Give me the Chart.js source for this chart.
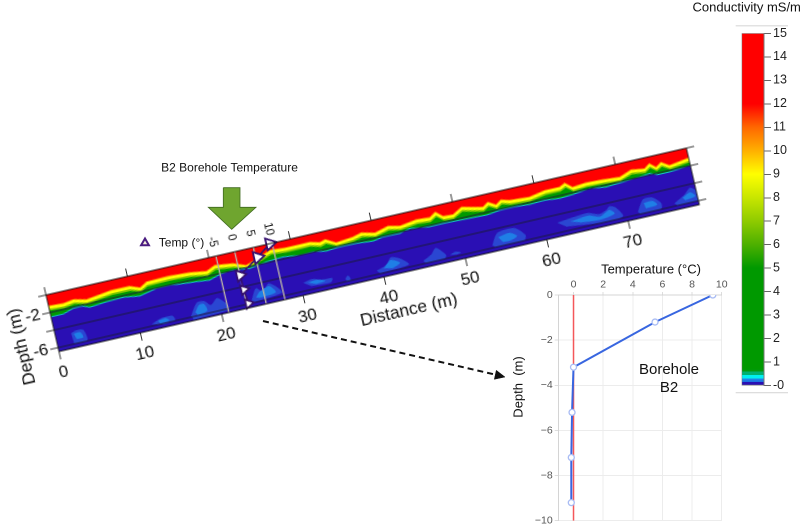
<!DOCTYPE html>
<html><head><meta charset="utf-8">
<style>
html,body{margin:0;padding:0;background:#fff;width:803px;height:529px;overflow:hidden}
canvas{position:absolute;display:block}
</style>
<script src="https://cdn.jsdelivr.net/npm/chart.js@4"></script>
</head><body>
<canvas id="section"></canvas>
<canvas id="borehole"></canvas>
<canvas id="colorbar"></canvas>
<canvas id="notes"></canvas>
<script>
// ---------- Section: conductivity bands along the profile ----------
const sectionDistTicks=[0,10,20,30,40,50,60,70];
const sectionDepthTicks=[0,-2,-4,-6];
const sectionDepthLabels=['-2','-6'];
const sectionGuideDepths=[-2,-4,-6];
const baseDist=[0,78.75];
const baseDepth=[-6.44,-6.44];
const redDist=[0,1.8,3.1,4.6,7.8,10,11.2,12.1,14.8,17.4,19.4,20.5,22.7,24.2,26,27.4,29.2,31,32.2,33.4,34.1,35.3,37.4,38.5,40.1,41.8,43.2,45.3,46.9,47.7,48.5,49.7,50.9,52.2,53.4,54.1,55,55.7,56.7,59.1,61.1,62.9,63.6,64.4,66.1,68.1,70.2,71.7,73.3,74,74.7,75.4,76.3,78.75];
const redDepth=[-1.23,-1.33,-1.15,-1.48,-1.09,-1.11,-1.54,-1.06,-0.99,-1.12,-1.4,-0.96,-1.22,-1.74,-1.18,-0.69,-0.82,-0.82,-0.8,-1.1,-0.9,-1.52,-1.33,-1.07,-1.43,-1.01,-1.3,-1.02,-1.13,-0.67,-1.32,-1.39,-0.78,-1.07,-1.32,-0.9,-1.39,-0.97,-1.24,-1.39,-1.04,-1.05,-0.75,-1.39,-1.24,-1.32,-1.47,-0.96,-1.18,-0.73,-1.3,-0.88,-1.44,-1.1];
const yellowDepth=[-1.58,-1.68,-1.5,-1.83,-1.44,-1.46,-1.85,-1.41,-1.34,-1.47,-1.75,-1.31,-1.55,-1.98,-1.5,-1.04,-1.17,-1.17,-1.15,-1.45,-1.25,-1.8,-1.65,-1.42,-1.76,-1.36,-1.62,-1.37,-1.48,-1.05,-1.67,-1.72,-1.13,-1.42,-1.65,-1.25,-1.72,-1.32,-1.59,-1.72,-1.39,-1.4,-1.1,-1.72,-1.59,-1.67,-1.8,-1.31,-1.5,-1.08,-1.6,-1.23,-1.74,-1.45];
const limeDepth=[-1.78,-1.88,-1.7,-2.0,-1.64,-1.66,-2.02,-1.61,-1.54,-1.67,-1.95,-1.51,-1.75,-2.08,-1.7,-1.24,-1.37,-1.37,-1.35,-1.65,-1.45,-1.95,-1.85,-1.62,-1.92,-1.56,-1.8,-1.57,-1.68,-1.25,-1.85,-1.9,-1.33,-1.62,-1.85,-1.45,-1.9,-1.52,-1.79,-1.9,-1.59,-1.6,-1.3,-1.9,-1.75,-1.85,-1.95,-1.51,-1.7,-1.28,-1.78,-1.43,-1.92,-1.62];
const blueDist=[0,1.5,2.8,3.9,4.8,6.9,9,10.9,13.1,14.7,15.9,18,19.5,20.9,22.5,24.5,26.7,28.7,30.7,32.4,33.9,35.6,37.7,39.7,40.9,43,44.3,46.6,48.3,50.3,52.4,53.6,55.3,56.9,58.9,60.8,62.6,64.2,66.4,68.3,70.4,72.5,73.8,74.7,76.1,78.75];
const blueDepth=[-2.49,-2.49,-2.12,-2.08,-2.42,-2.23,-2.17,-2.44,-2.03,-2.01,-2.14,-2.3,-2.46,-2.08,-1.94,-2.19,-1.88,-1.76,-1.98,-1.96,-2.21,-2.08,-2.12,-2.29,-2.08,-2.12,-1.83,-2.14,-2.11,-2.18,-2.23,-2.29,-2.09,-2.07,-2.21,-2.12,-2.31,-2.21,-1.97,-2.22,-2.09,-1.96,-1.84,-2.16,-2.17,-1.97];
// Deep, more conductive pockets (outlines)
const pocketADist=[1.9,2.5,3.4,3.6,2.0];       const pocketADepth=[-4.8,-4.6,-4.7,-5.9,-5.9];
const pocketBDist=[11.6,12.8,14.2,14.4,13];    const pocketBDepth=[-5.8,-5.4,-5.4,-5.9,-6.1];
const pocketCDist=[16.4,17.4,18.3,19,19.9,20.9,21,16.6]; const pocketCDepth=[-5.9,-4.6,-4.6,-5.2,-4.6,-5.5,-6.1,-6.3];
const pocketDDist=[23.9,24.7,25.4,26.3,27.2,27.6,24.1];  const pocketDDepth=[-5.7,-4.5,-5.0,-4.3,-4.9,-5.6,-5.9];
const pocketEDist=[30.4,31.5,32.6,33.9,33.6,31.2];  const pocketEDepth=[-5.1,-4.9,-5.2,-5.3,-5.7,-5.6];
const pocketFDist=[35.4,35.8,36,35.6];  const pocketFDepth=[-5.7,-5.4,-5.9,-6];
const pocketGDist=[39.3,40.6,41.3,42.4,43.2,39.6]; const pocketGDepth=[-5.6,-5.2,-4.5,-4.9,-5.7,-5.9];
const pocketHDist=[45,46.1,46.8,47.8,47.6,45.3]; const pocketHDepth=[-5.7,-5.2,-4.6,-5.6,-5.9,-6];
const pocketIDist=[48.3,49,49.6,49]; const pocketIDepth=[-5.7,-5.5,-5.7,-5.8];
const pocketJDist=[53.5,54.4,56.5,57.6,57.4,53.8]; const pocketJDepth=[-5.7,-4.5,-4.4,-5.4,-5.9,-6];
const pocketKDist=[61.7,63.6,65.5,66.8,67.8,68.2,68.9,69.5,66.6,62.6]; const pocketKDepth=[-4.9,-4.7,-4.6,-5.0,-4.7,-4.4,-4.7,-5.8,-5.9,-5.5];
const pocketLDist=[71.4,72.3,73.4,74.3,74.2,71.6]; const pocketLDepth=[-5.7,-4.5,-4.5,-5.3,-5.9,-6];
const pocketMDist=[75.9,77.3,78.1,78.75,78.75,76.2]; const pocketMDepth=[-5.7,-5.0,-4.4,-4.9,-5.9,-6];
const coreADist=[2.2,3,3.2,2.4]; const coreADepth=[-4.9,-4.9,-5.5,-5.5];
const coreBDist=[12.4,13.4,13.7,12.6]; const coreBDepth=[-5.6,-5.5,-5.8,-5.9];
const coreCDist=[17.0,17.6,18.2,18.4,17.2]; const coreCDepth=[-5.6,-4.9,-4.9,-5.7,-5.9];
const coreDDist=[24.5,25,26.3,26.9,24.8]; const coreDDepth=[-5.5,-5.0,-4.6,-5.4,-5.6];
const coreEDist=[31,32,33,31.8]; const coreEDepth=[-5.2,-5.1,-5.4,-5.5];
const coreGDist=[40.2,41.2,42.2,41.2]; const coreGDepth=[-5.5,-4.8,-5.3,-5.7];
const coreJDist=[54.4,55.8,56.6,55.8,54.8]; const coreJDepth=[-5.0,-4.8,-5.3,-5.6,-5.6];
const coreKDist=[63.3,65.5,66.8,68.1,68.6,66.8,64.4]; const coreKDepth=[-5.1,-4.9,-5.3,-4.8,-5.3,-5.6,-5.4];
const coreLDist=[72.3,73.4,73.8,72.4]; const coreLDepth=[-4.9,-4.9,-5.4,-5.5];
const coreMDist=[77,78,78.5,77.2]; const coreMDepth=[-5.3,-4.9,-5.4,-5.6];
// Temperature profile overlaid on the section
const sectionTempTicks=[-5,0,5,10];
const sectionTemp=[9.4,5.5,0,0.15,0.5];
const sectionTempDepth=[0,-1.17,-2.7,-4.33,-5.95];
// ---------- Borehole inset ----------
const boreholeTempTicks=[0,2,4,6,8,10];
const boreholeDepthTicks=[0,-2,-4,-6,-8,-10];
const boreholeTemp=[9.4,5.5,0,-0.1,-0.15,-0.15];
const boreholeDepth=[0,-1.2,-3.2,-5.2,-7.2,-9.2];
const freezeTemp=[0,0];
const freezeDepth=[0,-10];
// ---------- Colour bar ----------
const colorbarLabels=['Conductivity'];
const colorbarRange=[[0,15]];
const colorbarStopValues=[0,0.15,0.15,0.3,0.3,0.45,0.45,0.6,0.6,0.75,5,6,7,8,9,10,11,12,15];
const colorbarStopColors=['#2a0fb4','#2a0fb4','#1e6be0','#1e8be8','#00f0f0','#00f0f0','#00b070','#00b070','#009a10','#009900','#009900','#4db000','#8fcb00','#c8e600','#ffff00','#ffb000','#ff6800','#ff0000','#ff0000'];
// ---------- Labels ----------
const titleConductivity='Conductivity mS/m';
const titleSource='B2 Borehole Temperature';
const legendTemp='Temp (°)';
const titleDistance='Distance (m)';
const titleDepth='Depth (m)';
const titleTemp='Temperature (°C)';
const titleBoreDepth='Depth  (m)';
const noteBorehole=['Borehole','B2'];

const FONT='"Liberation Sans", Arial, sans-serif';
const pts=(xs,ys)=>xs.map((x,i)=>({x,y:ys[i]}));
const textPlugin=list=>({id:'texts',afterDraw(chart){
  const c=chart.ctx;
  list(chart).forEach(t=>{
    c.save();c.translate(t.x,t.y);if(t.rot)c.rotate(t.rot);
    c.font=t.size+'px '+FONT;c.fillStyle=t.color||'#111';c.textAlign='center';c.textBaseline='middle';
    c.fillText(t.text,0,0);c.restore();
  });
}});
const base={responsive:false,animation:false,devicePixelRatio:2,
  plugins:{legend:{display:false},tooltip:{enabled:false},title:{display:false}},
  events:[]};

// ===== Section chart (drawn level, then tilted as in the figure) =====
(function(){
  const L=60,R=20,TOP1=9,TOP2=36,B=70,PW=657.6,PH=58,TILT=-12.92;
  const cv=document.getElementById('section');
  cv.width=L+PW+R;cv.height=TOP1+TOP2+PH+B;
  cv.style.left=(46-L)+'px';cv.style.top=(295-(TOP1+TOP2))+'px';
  cv.style.transformOrigin=L+'px '+(TOP1+TOP2)+'px';
  cv.style.transform='rotate('+TILT+'deg)';
  const band=(x,y,fillCol,edge,order,w)=>({type:'line',data:pts(x,y),fill:'end',backgroundColor:fillCol,
     borderColor:edge,borderWidth:w,pointRadius:0,tension:0,order,xAxisID:'x',yAxisID:'y'});
  const blob=(x,y,col,order)=>({type:'line',data:pts(x,y),fill:'shape',backgroundColor:col,borderColor:col,
     borderWidth:0.5,pointRadius:0,tension:0.25,order,xAxisID:'x',yAxisID:'y'});
  const outer='#2a46d2',inner='#1f7fe6';
  const datasets=[
    band(baseDist,baseDepth,'#2a0fb4','#2a0fb4',100,0),
    blob(pocketADist,pocketADepth,outer,90),blob(pocketBDist,pocketBDepth,outer,90),blob(pocketCDist,pocketCDepth,outer,90),
    blob(pocketDDist,pocketDDepth,outer,90),blob(pocketEDist,pocketEDepth,outer,90),blob(pocketFDist,pocketFDepth,outer,90),
    blob(pocketGDist,pocketGDepth,outer,90),blob(pocketHDist,pocketHDepth,outer,90),blob(pocketIDist,pocketIDepth,outer,90),
    blob(pocketJDist,pocketJDepth,outer,90),blob(pocketKDist,pocketKDepth,outer,90),blob(pocketLDist,pocketLDepth,outer,90),
    blob(pocketMDist,pocketMDepth,outer,90),
    blob(coreADist,coreADepth,inner,80),blob(coreBDist,coreBDepth,inner,80),blob(coreCDist,coreCDepth,inner,80),
    blob(coreDDist,coreDDepth,inner,80),blob(coreEDist,coreEDepth,inner,80),blob(coreGDist,coreGDepth,inner,80),
    blob(coreJDist,coreJDepth,inner,80),blob(coreKDist,coreKDepth,inner,80),blob(coreLDist,coreLDepth,inner,80),
    blob(coreMDist,coreMDepth,inner,80),
    band(blueDist,blueDepth,'#009900','#12c8c0',50,1),
    band(redDist,limeDepth,'#86c800','#86c800',40,0),
    band(redDist,yellowDepth,'#ffff00','#ffff00',30,0),
    band(redDist,redDepth,'#ff0000','#ff8000',20,1),
    ...sectionGuideDepths.map(d=>({type:'line',data:pts(baseDist,[d,d]),xAxisID:'x',yAxisID:'y',order:10,fill:false,
       borderColor:'#1a1a3a',borderWidth:1,pointRadius:0})),
    ...sectionTempTicks.map(t=>({type:'line',data:pts([t,t],[baseDepth[0],0]),xAxisID:'xT',yAxisID:'y',order:5,fill:false,
       borderColor:'#b9b2a6',borderWidth:1.4,pointRadius:0})),
    {type:'line',data:pts(sectionTemp,sectionTempDepth),xAxisID:'xT',yAxisID:'y',order:1,clip:false,fill:false,
     borderColor:'#35106e',borderWidth:1.6,tension:0,pointStyle:'triangle',pointRotation:90,
     pointRadius:[7,7,6.5,5.5,5.5],pointBackgroundColor:'#fff',pointBorderColor:'#35106e',pointBorderWidth:1.8}
  ];
  const hardTicks=arr=>s=>{s.ticks=arr.map(v=>({value:v}));};
  new Chart(cv,{type:'line',data:{datasets},plugins:[textPlugin(ch=>{
    const a=ch.chartArea;return [
      {text:titleDistance,x:ch.scales.x.getPixelForValue(42),y:a.bottom+38,size:17.5},
      {text:titleDepth,x:a.left-35,y:a.top+45,size:17.5,rot:-Math.PI/2},
      ...sectionTempTicks.map(v=>({text:String(v),x:ch.scales.xT.getPixelForValue(v),y:a.top-14.5,size:11.5,rot:Math.PI/2}))
    ];})],
  options:{...base,layout:{padding:0,autoPadding:false},
    scales:{
      x:{type:'linear',position:'bottom',min:0,max:78.75,weight:0,
         afterBuildTicks:hardTicks(sectionDistTicks),afterFit(s){s.height=B;},
         grid:{drawOnChartArea:false,color:'#333',tickLength:8,lineWidth:1},border:{display:true,color:'#111',z:2},
         ticks:{font:{size:17,family:FONT},color:'#111',padding:3,maxRotation:0,autoSkip:false,callback:v=>String(v)}},
      xTop:{type:'linear',position:'top',min:0,max:78.75,weight:0,
         afterBuildTicks:hardTicks(sectionDistTicks),afterFit(s){s.height=TOP1;},
         grid:{drawOnChartArea:false,color:'#333',tickLength:8},border:{display:true,color:'#111',z:2},
         ticks:{display:false}},
      xT:{type:'linear',position:'top',min:-50.43,max:120.76,weight:1,
         afterBuildTicks:hardTicks(sectionTempTicks),afterFit(s){s.height=TOP2;},
         grid:{display:false},border:{display:false},
         ticks:{display:false}},
      y:{type:'linear',position:'left',min:-6.44,max:0,
         afterBuildTicks:hardTicks(sectionDepthTicks),afterFit(s){s.width=L;},
         grid:{drawOnChartArea:false,color:'#333',lineWidth:1,tickLength:8},border:{display:true,color:'#222',z:2},
         ticks:{font:{size:17,family:FONT},color:'#111',padding:2,autoSkip:false,callback:v=>sectionDepthLabels.includes(String(v))?String(v):''}},
      yR:{type:'linear',position:'right',min:-6.44,max:0,
         afterBuildTicks:hardTicks(sectionDepthTicks),afterFit(s){s.width=R;},
         grid:{drawOnChartArea:false,color:'#333',tickLength:8},border:{display:true,color:'#222',z:2},
         ticks:{display:false}}
    }}});
})();

// ===== Borehole inset =====
(function(){
  const cv=document.getElementById('borehole');
  cv.width=240;cv.height=274;cv.style.left='490px';cv.style.top='255px';
  const hardTicks=arr=>s=>{s.ticks=arr.map(v=>({value:v}));};
  new Chart(cv,{type:'line',data:{datasets:[
    {data:pts(boreholeTemp,boreholeDepth),borderColor:'#3866e0',borderWidth:2,tension:0,fill:false,order:1,
     pointRadius:3,pointBackgroundColor:'#fff',pointBorderColor:'#a9bcf4',pointBorderWidth:1.3},
    {data:pts(freezeTemp,freezeDepth),borderColor:'#f4575a',borderWidth:1.5,pointRadius:0,fill:false,order:2}
  ]},plugins:[textPlugin(ch=>[
    {text:titleTemp,x:161,y:15,size:13},
    {text:titleBoreDepth,x:29,y:132,size:13,rot:-Math.PI/2},
    {text:noteBorehole[0],x:179,y:115,size:15},
    {text:noteBorehole[1],x:179,y:133,size:15}
  ])],
  options:{...base,layout:{padding:{right:8.3,bottom:6,left:0,top:0},autoPadding:false},
    scales:{
      x:{type:'linear',position:'top',min:-1,max:10,afterBuildTicks:hardTicks(boreholeTempTicks),afterFit(s){s.height=40;},
         grid:{color:'#ececec',tickLength:3,tickColor:'#ddd'},border:{color:'#d4d4d4'},
         ticks:{font:{size:10.5,family:FONT},color:'#555',padding:1,maxRotation:0,callback:v=>String(v)}},
      y:{type:'linear',position:'left',min:-10,max:0,afterBuildTicks:hardTicks(boreholeDepthTicks),afterFit(s){s.width=68.7;},
         grid:{color:'#ececec',tickLength:4,tickColor:'#ddd'},border:{color:'#d4d4d4'},
         ticks:{font:{size:10.5,family:FONT},color:'#555',padding:2,callback:v=>v<0?'\u2212'+Math.abs(v):String(v)}}
    }}});
})();

// ===== Colour bar =====
(function(){
  const cv=document.getElementById('colorbar');
  cv.width=113;cv.height=400;cv.style.left='690px';cv.style.top='0px';
  const grad=ctx=>{
    const {chart}=ctx;const a=chart.chartArea;if(!a)return '#090';
    const s=chart.scales.y,g=chart.ctx.createLinearGradient(0,s.getPixelForValue(0),0,s.getPixelForValue(15));
    colorbarStopValues.forEach((v,i)=>g.addColorStop(v/15,colorbarStopColors[i]));return g;
  };
  new Chart(cv,{type:'bar',data:{labels:colorbarLabels,datasets:[
    {data:colorbarRange,backgroundColor:grad,borderColor:'#7a7a7a',borderWidth:0.8,borderSkipped:false,barPercentage:1,categoryPercentage:1}
  ]},plugins:[textPlugin(()=>[{text:titleConductivity,x:56.7,y:8,size:13}]),
    {id:'capLines',afterDraw(ch){const c=ch.ctx,a=ch.chartArea;c.save();c.strokeStyle='#d8d8d8';c.lineWidth=1.2;
       [a.top-7.5,a.bottom+7].forEach(y=>{c.beginPath();c.moveTo(a.left-6,y);c.lineTo(a.right+24,y);c.stroke();});c.restore();}}],
  options:{...base,layout:{padding:{left:51.7,right:0,top:33.3,bottom:14.3},autoPadding:false},
    scales:{
      x:{display:false},
      y:{position:'right',min:0,max:15,afterFit(s){s.width=39;},
         grid:{drawOnChartArea:false,color:'#666',tickLength:7},border:{color:'#777'},
         ticks:{stepSize:1,autoSkip:false,font:{size:12.5,family:FONT},color:'#222',padding:2,callback:v=>v===0?'-0':String(v)}}
    }}});
})();

// ===== Notes layer: source arrow, dashed pointer, legend key =====
const sourceArrowX=[223.3,240,240,256,231.7,208.3,223.3,223.3];
const sourceArrowY=[187.7,187.7,207.3,207.3,229.3,207.3,207.3,187.7];
const pointerX=[263,497];
const pointerY=[321,375];
const pointerHeadX=[505,494.3,496.3,505];
const pointerHeadY=[377,379.3,370.3,377];
const legendKeyX=[145];
const legendKeyY=[243];
(function(){
  const cv=document.getElementById('notes');
  cv.width=803;cv.height=529;cv.style.left='0';cv.style.top='0';cv.style.pointerEvents='none';
  new Chart(cv,{type:'line',data:{datasets:[
    {data:pts(sourceArrowX,sourceArrowY),fill:'shape',backgroundColor:'#6fa52f',borderColor:'#3f6a1f',borderWidth:0.8,pointRadius:0,tension:0},
    {data:pts(pointerX,pointerY),borderColor:'#111',borderWidth:2,borderDash:[6,4],pointRadius:0,fill:false},
    {data:pts(pointerHeadX,pointerHeadY),fill:'shape',backgroundColor:'#111',borderColor:'#111',borderWidth:0.5,pointRadius:0,tension:0},
    {data:pts(legendKeyX,legendKeyY),showLine:false,pointStyle:'triangle',pointRadius:4.5,pointBackgroundColor:'#f3ecd8',pointBorderColor:'#4a1c80',pointBorderWidth:2}
  ]},plugins:[textPlugin(()=>[
    {text:titleSource,x:229.5,y:168,size:12},
    {text:legendTemp,x:181.5,y:243,size:12}
  ])],
  options:{...base,layout:{padding:0,autoPadding:false},
    scales:{x:{type:'linear',display:false,min:0,max:803},y:{type:'linear',display:false,min:0,max:529,reverse:true}}}});
})();
</script>
</body></html>
